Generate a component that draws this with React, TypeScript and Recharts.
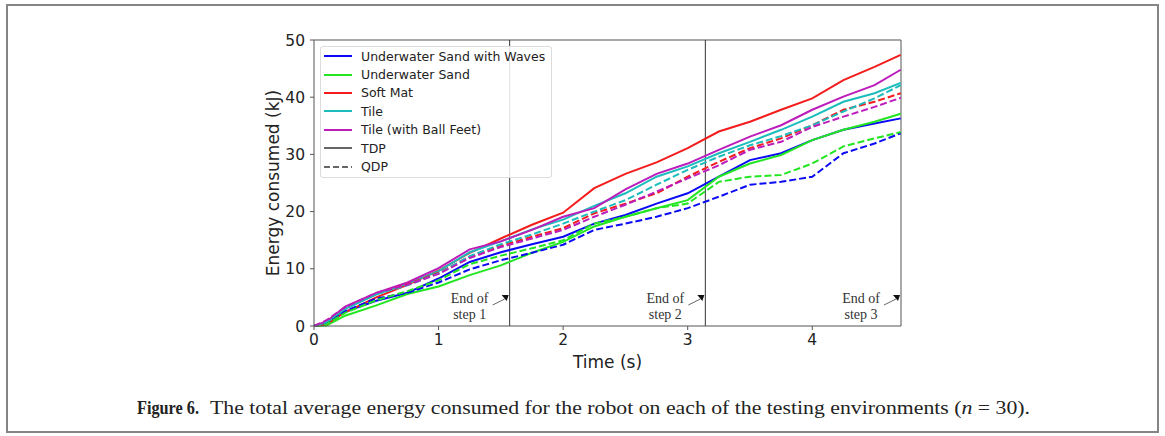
import { LineChart, Line, XAxis, YAxis, ReferenceLine } from "recharts";

// time (s) and average cumulative energy (kJ)
const time = [0, 0.1, 0.25, 0.5, 0.75, 1.0, 1.25, 1.5, 1.75, 2.0, 2.25, 2.5, 2.75, 3.0, 3.25, 3.5, 3.75, 4.0, 4.25, 4.5, 4.71];

const sandWavesTDP = [0, 0.4, 2.5, 4.4, 5.8, 8.3, 11.2, 12.9, 14.3, 15.6, 17.9, 19.4, 21.4, 23.2, 26.1, 29.0, 30.2, 32.5, 34.3, 35.4, 36.3];
const sandTDP = [0, 0.1, 1.8, 3.6, 5.6, 6.9, 8.9, 10.6, 12.8, 14.7, 17.4, 19.1, 20.6, 22.0, 26.1, 28.4, 29.9, 32.5, 34.3, 35.7, 37.1];
const softMatTDP = [0, 0.3, 2.4, 5.0, 7.2, 9.7, 12.8, 15.3, 17.7, 19.8, 24.1, 26.6, 28.6, 31.1, 34.0, 35.7, 37.8, 39.8, 43.0, 45.3, 47.4];
const tileTDP = [0, 0.6, 3.0, 5.5, 7.4, 9.6, 12.9, 14.8, 16.9, 18.6, 21.0, 23.2, 26.1, 27.9, 30.2, 32.2, 34.3, 36.6, 39.2, 40.7, 42.5];
const ballFeetTDP = [0, 0.8, 3.4, 5.8, 7.6, 10.1, 13.4, 14.8, 16.8, 19.1, 20.6, 23.9, 26.6, 28.4, 30.8, 33.1, 35.1, 37.8, 40.1, 42.1, 44.8];

const sandWavesQDP = [0, 0.5, 2.6, 4.8, 5.8, 7.6, 9.9, 11.5, 12.8, 14.2, 16.8, 17.9, 19.1, 20.6, 22.6, 24.7, 25.2, 26.1, 30.2, 31.9, 33.7];
const sandQDP = [0, 0.3, 2.3, 4.5, 6.1, 8.0, 10.8, 12.3, 13.6, 15.0, 17.9, 19.1, 20.6, 21.4, 25.2, 26.1, 26.4, 28.4, 31.4, 32.8, 33.9];
const softMatQDP = [0, 0.8, 3.1, 5.7, 7.3, 9.3, 12.1, 14.0, 15.6, 17.1, 19.7, 21.4, 23.2, 26.1, 28.7, 31.1, 32.8, 35.1, 37.8, 39.2, 40.7];
const tileQDP = [0, 0.7, 3.0, 5.6, 7.1, 9.2, 12.2, 14.3, 16.0, 17.9, 20.0, 22.0, 24.7, 27.3, 29.6, 31.6, 33.2, 35.1, 37.5, 39.8, 42.1];
const ballFeetQDP = [0, 1.0, 3.3, 5.8, 7.2, 9.1, 11.9, 13.8, 15.3, 16.8, 19.1, 21.2, 23.5, 25.8, 28.1, 30.8, 32.2, 34.8, 36.6, 38.3, 39.9];

const environments = ["Underwater Sand with Waves", "Underwater Sand", "Soft Mat", "Tile", "Tile (with Ball Feet)"];
const xTicks = [0, 1, 2, 3, 4];
const yTicks = [0, 10, 20, 30, 40, 50];
const stepEnds = [Math.PI / 2, Math.PI, (3 * Math.PI) / 2];
const stepNames = ["step 1", "step 2", "step 3"];

const colors = ["#0a0af5", "#22e622", "#f41c1c", "#1cbcbc", "#bc1cbc"];
const tdp = [sandWavesTDP, sandTDP, softMatTDP, tileTDP, ballFeetTDP];
const qdp = [sandWavesQDP, sandQDP, softMatQDP, tileQDP, ballFeetQDP];

const rows = time.map((t, i) => {
  const row: Record<string, number> = { t };
  tdp.forEach((s, k) => (row[`tdp${k}`] = s[i]));
  qdp.forEach((s, k) => (row[`qdp${k}`] = s[i]));
  return row;
});

const SANS = "DejaVu Sans, sans-serif";
const SERIF = "Liberation Serif, serif";

function LegendBox() {
  const items = [
    ...environments.map((name, i) => ({ name, color: colors[i], dash: undefined as string | undefined })),
    { name: "TDP", color: "#666", dash: undefined },
    { name: "QDP", color: "#666", dash: "6 3" },
  ];
  return (
    <div
      style={{
        position: "absolute",
        left: 320,
        top: 46,
        width: 232,
        height: 132,
        boxSizing: "border-box",
        border: "1px solid #dcdcdc",
        borderRadius: 3,
        background: "rgba(255,255,255,0.85)",
        fontFamily: SANS,
        fontSize: 12.5,
        color: "#222",
      }}
    >
      {items.map((it) => (
        <div key={it.name} style={{ height: 18.4, display: "flex", alignItems: "center" }}>
          <svg width={28} height={8} style={{ marginLeft: 3, marginRight: 9 }}>
            <line x1={0} x2={28} y1={4} y2={4} stroke={it.color} strokeWidth={2} strokeDasharray={it.dash} />
          </svg>
          <span style={{ whiteSpace: "nowrap" }}>{it.name}</span>
        </div>
      ))}
    </div>
  );
}

function StepLabel(props: any) {
  const { viewBox, name } = props;
  const x = viewBox.x;
  const bottom = viewBox.y + viewBox.height;
  return (
    <g>
      <text x={x - 40} y={bottom - 23} textAnchor="middle" fontFamily={SERIF} fontSize={14} fill="#333">
        End of
      </text>
      <text x={x - 40} y={bottom - 7} textAnchor="middle" fontFamily={SERIF} fontSize={14} fill="#333">
        {name}
      </text>
      <line x1={x - 17} y1={bottom - 21} x2={x - 5} y2={bottom - 27} stroke="#666" strokeWidth={1} />
      <polygon points={`${x - 8},${bottom - 31} ${x - 1},${bottom - 31} ${x - 3},${bottom - 25}`} fill="#111" />
    </g>
  );
}

export default function App() {
  return (
    <div style={{ position: "absolute", left: 0, top: 0, width: 1165, height: 436, background: "#fff" }}>
      <div
        style={{
          position: "absolute",
          left: 6,
          top: 4,
          width: 1153,
          height: 429,
          boxSizing: "border-box",
          border: "2px solid #858585",
        }}
      />
      <div style={{ position: "absolute", left: 0, top: 0 }}>
        <LineChart width={1165} height={380} data={rows} margin={{ top: 40, right: 264, left: 274, bottom: 30 }}>
          <XAxis
            dataKey="t"
            type="number"
            domain={[0, (3 * Math.PI) / 2]}
            ticks={xTicks}
            height={24}
            tickSize={4}
            tickMargin={4}
            stroke="#555"
            tick={{ fontSize: 15.5, fill: "#222", fontFamily: SANS }}
            label={(p: any) => (
              <text
                x={p.viewBox.x + p.viewBox.width / 2}
                y={p.viewBox.y + 42}
                textAnchor="middle"
                fontFamily={SANS}
                fontSize={17}
                fill="#222"
              >
                Time (s)
              </text>
            )}
          />
          <YAxis
            type="number"
            domain={[0, 50]}
            ticks={yTicks}
            width={40}
            tickSize={4}
            tickMargin={5}
            stroke="#555"
            tick={{ fontSize: 15.5, fill: "#222", fontFamily: SANS }}
            label={(p: any) => {
              const cx = p.viewBox.x - 1;
              const cy = p.viewBox.y + p.viewBox.height / 2;
              return (
                <text
                  x={cx}
                  y={cy}
                  transform={`rotate(-90 ${cx} ${cy})`}
                  textAnchor="middle"
                  dominantBaseline="central"
                  fontFamily={SANS}
                  fontSize={17}
                  fill="#222"
                >
                  Energy consumed (kJ)
                </text>
              );
            }}
          />
          <ReferenceLine y={50} stroke="#555" />
          {stepEnds.map((s, i) => (
            <ReferenceLine
              key={s}
              x={s}
              stroke={i === 2 ? "#555" : "#333"}
              label={(p: any) => <StepLabel {...p} name={stepNames[i]} />}
            />
          ))}
          {tdp.map((_, k) => (
            <Line
              key={`tdp${k}`}
              dataKey={`tdp${k}`}
              type="linear"
              stroke={colors[k]}
              strokeWidth={2}
              dot={false}
              isAnimationActive={false}
            />
          ))}
          {qdp.map((_, k) => (
            <Line
              key={`qdp${k}`}
              dataKey={`qdp${k}`}
              type="linear"
              stroke={colors[k]}
              strokeWidth={2}
              strokeDasharray="7 3"
              dot={false}
              isAnimationActive={false}
            />
          ))}
        </LineChart>
      </div>
      <LegendBox />
      <svg style={{ position: "absolute", left: 0, top: 0 }} width={1165} height={436}>
        <text x={137} y={414} fontFamily={SERIF} fontSize={18} fontWeight="bold" fill="#222" textLength={62} lengthAdjust="spacingAndGlyphs">
          Figure 6.
        </text>
        <text x={210} y={414} fontFamily={SERIF} fontSize={18} fill="#222" textLength={820} lengthAdjust="spacingAndGlyphs">
          The total average energy consumed for the robot on each of the testing environments (
          <tspan fontStyle="italic">n</tspan> = 30).
        </text>
      </svg>
    </div>
  );
}
